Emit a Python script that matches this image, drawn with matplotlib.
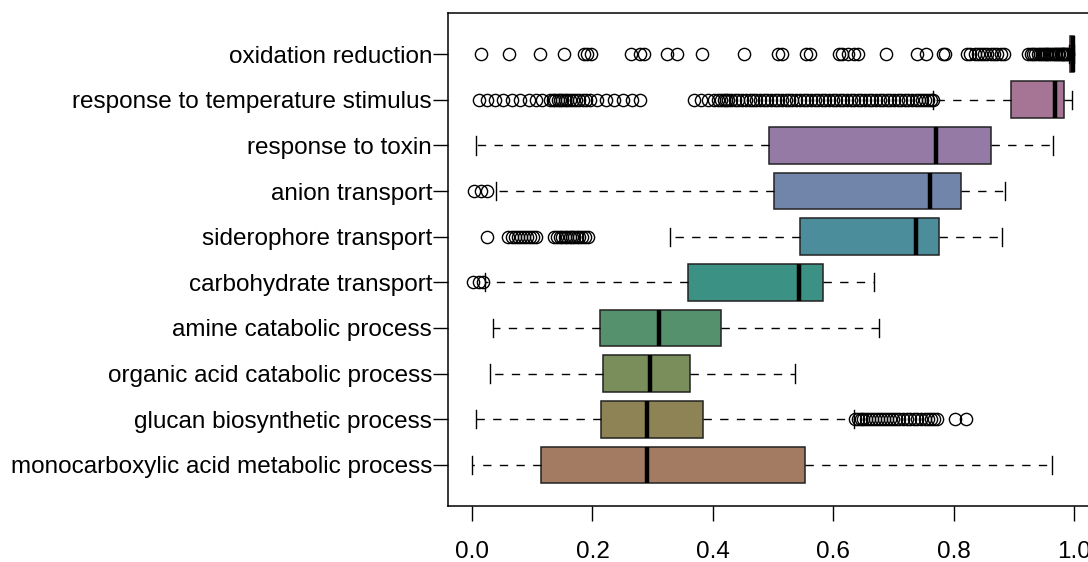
import matplotlib
matplotlib.use('Agg')
import matplotlib.pyplot as plt

plt.rcParams['font.family'] = ['Liberation Sans', 'DejaVu Sans']

# categories from bottom to top
labels = ['monocarboxylic acid metabolic process', 'glucan biosynthetic process',
          'organic acid catabolic process', 'amine catabolic process',
          'carbohydrate transport', 'siderophore transport', 'anion transport',
          'response to toxin', 'response to temperature stimulus', 'oxidation reduction']

whislo = [0.000, 0.006, 0.029, 0.034, 0.022, 0.329, 0.039, 0.006, 0.766, 0.991]
q1     = [0.114, 0.215, 0.218, 0.213, 0.359, 0.545, 0.501, 0.494, 0.896, 0.994]
med    = [0.290, 0.290, 0.295, 0.310, 0.543, 0.737, 0.761, 0.771, 0.969, 0.999]
q3     = [0.553, 0.384, 0.362, 0.414, 0.583, 0.776, 0.812, 0.863, 0.984, 1.000]
whishi = [0.964, 0.634, 0.537, 0.676, 0.667, 0.880, 0.886, 0.966, 0.997, 1.000]

fl_mono = []
fl_glucan = [0.636, 0.641, 0.646, 0.650, 0.655, 0.660, 0.665, 0.670, 0.675, 0.680,
             0.685, 0.690, 0.695, 0.700, 0.705, 0.710, 0.716, 0.722, 0.728, 0.734,
             0.740, 0.746, 0.752, 0.758, 0.763, 0.768, 0.773, 0.803, 0.821]
fl_organic = []
fl_amine = []
fl_carb = [0.002, 0.011, 0.018]
fl_sidero = [0.024, 0.060, 0.066, 0.072, 0.077, 0.082, 0.087, 0.092, 0.097, 0.102,
             0.107, 0.136, 0.141, 0.146, 0.150, 0.154, 0.158, 0.162, 0.166, 0.170,
             0.174, 0.178, 0.183, 0.188, 0.193]
fl_anion = [0.003, 0.014, 0.025]
fl_toxin = []
fl_temp = [0.011, 0.024, 0.038, 0.052, 0.066, 0.080, 0.094, 0.107, 0.116, 0.130,
           0.134, 0.138, 0.142, 0.146, 0.150, 0.154, 0.158, 0.163, 0.168, 0.173,
           0.178, 0.184, 0.190, 0.196, 0.207, 0.222, 0.236, 0.250, 0.265, 0.279,
           0.368, 0.380, 0.392, 0.402, 0.408, 0.414, 0.418, 0.422, 0.426, 0.431,
           0.437, 0.442, 0.448, 0.455, 0.461, 0.466, 0.472, 0.479, 0.485, 0.490,
           0.497, 0.503, 0.508, 0.515, 0.521, 0.527, 0.532, 0.539, 0.545, 0.551,
           0.557, 0.563, 0.569, 0.575, 0.581, 0.587, 0.593, 0.599, 0.605, 0.611,
           0.617, 0.623, 0.629, 0.635, 0.641, 0.647, 0.653, 0.659, 0.665, 0.671,
           0.677, 0.683, 0.689, 0.695, 0.701, 0.707, 0.713, 0.719, 0.725, 0.731,
           0.737, 0.742, 0.748, 0.753, 0.758, 0.762, 0.766]
fl_oxid = [0.014, 0.062, 0.113, 0.153, 0.186, 0.191, 0.197, 0.264, 0.279, 0.286,
           0.324, 0.340, 0.382, 0.451, 0.508, 0.515, 0.554, 0.561, 0.609, 0.615,
           0.624, 0.634, 0.642, 0.687, 0.739, 0.755, 0.783, 0.786, 0.822, 0.828,
           0.835, 0.840, 0.846, 0.851, 0.856, 0.862, 0.867, 0.872, 0.878, 0.883,
           0.924, 0.928, 0.932, 0.936, 0.940, 0.944, 0.947, 0.950, 0.953, 0.956,
           0.959, 0.962, 0.965, 0.968, 0.971, 0.974, 0.976, 0.978, 0.980, 0.982,
           0.984, 0.986, 0.988, 0.990]
fliers = [fl_mono, fl_glucan, fl_organic, fl_amine, fl_carb, fl_sidero,
          fl_anion, fl_toxin, fl_temp, fl_oxid]

colors = ['#A37A62', '#8E8355', '#798E5A', '#56916E', '#3C9185', '#4B8D9B',
          '#7185AB', '#957AA6', '#A67494', '#B07088']

ticks = [0.0, 0.2, 0.4, 0.6, 0.8, 1.0]

stats = []
for i in range(len(labels)):
    stats.append(dict(med=med[i], q1=q1[i], q3=q3[i], whislo=whislo[i],
                      whishi=whishi[i], fliers=fliers[i], label=labels[i]))

fig = plt.figure(figsize=(10.88, 5.62), dpi=100)
ax = fig.add_axes([448 / 1088, 56 / 562, 650 / 1088, 493 / 562])

pos = list(range(1, len(labels) + 1))
bp = ax.bxp(stats, positions=pos, widths=0.8, orientation='horizontal',
            patch_artist=True, capwidths=0.4,
            boxprops=dict(edgecolor='#222222', linewidth=1.1),
            medianprops=dict(color='black', linewidth=3.2, solid_capstyle='butt'),
            whiskerprops=dict(color='black', linewidth=1.0, linestyle=(0, (6, 6))),
            capprops=dict(color='black', linewidth=1.0),
            flierprops=dict(marker='o', markersize=8.8, markerfacecolor='none',
                            markeredgecolor='black', markeredgewidth=1.0))
for patch, c in zip(bp['boxes'], colors):
    patch.set_facecolor(c)

ax.set_xlim(-0.04, 1.04)
ax.set_ylim(0.1, 10.9)
ax.set_xticks(ticks)
ax.set_xticklabels(['%.1f' % t for t in ticks])
ax.set_yticks(pos)
ax.set_yticklabels(labels)
ax.tick_params(axis='y', length=10.5, width=1.0, pad=1, labelsize=17.5)
ax.tick_params(axis='x', length=10.5, width=1.0, pad=15, labelsize=17.5)
for s in ax.spines.values():
    s.set_linewidth(1.1)

fig.savefig('out.png', dpi=100)
